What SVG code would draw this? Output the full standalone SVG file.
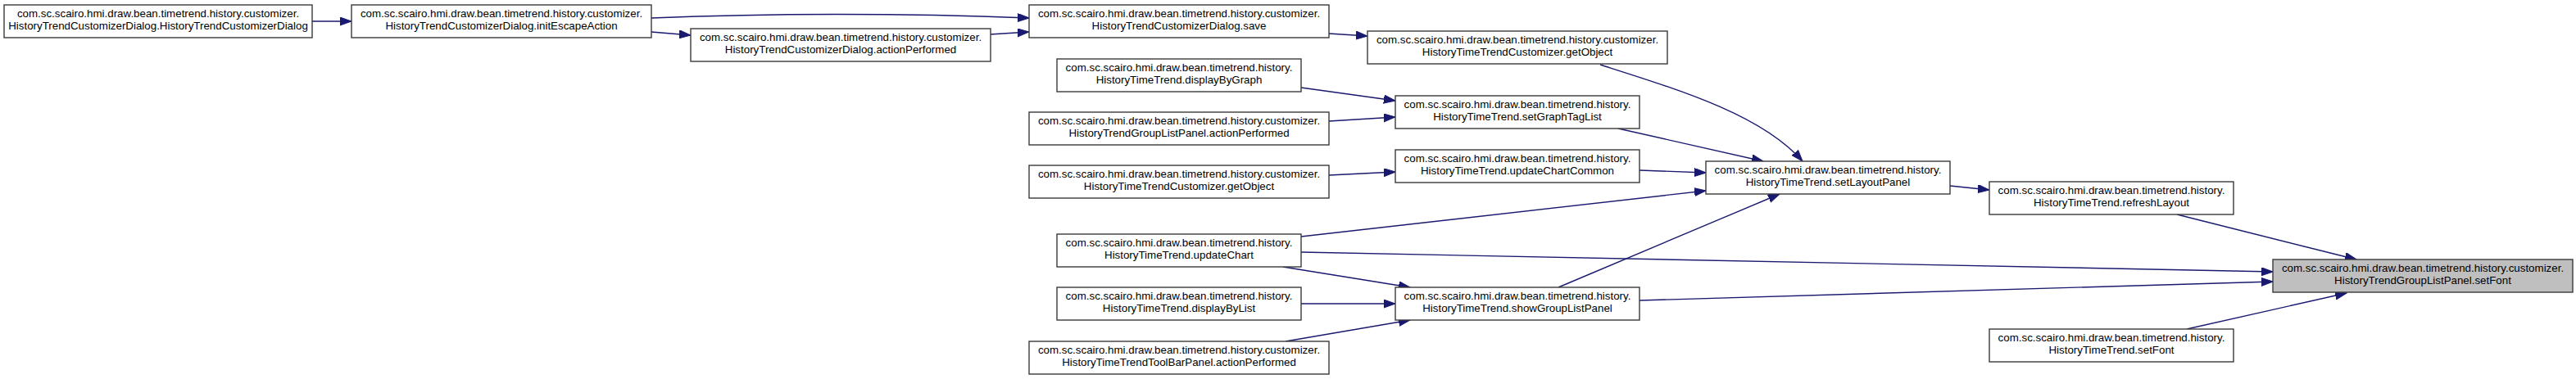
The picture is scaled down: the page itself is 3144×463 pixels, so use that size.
<svg xmlns="http://www.w3.org/2000/svg" width="3144" height="463" viewBox="0 0 3144 463">
<style>
.n rect{fill:#ffffff;stroke:#3a3a3a;stroke-width:1.4}
.n.t rect{fill:#bfbfbf}
.n text{font-family:"Liberation Sans",Arial,sans-serif;font-size:13.33px;fill:#000;text-anchor:middle}
.e path{fill:none;stroke:#191970;stroke-width:1.4;marker-end:url(#ah)}
</style>
<defs>
<marker id="ah" markerUnits="userSpaceOnUse" markerWidth="15" markerHeight="11" refX="14" refY="5" orient="auto">
<path d="M0,0 L14,5 L0,10 z" fill="#191970" stroke="#191970" stroke-width="1"/>
</marker>
</defs>
<rect width="3144" height="463" fill="#ffffff"/>
<g id="edges" class="e">
<path d="M381,26 L429,26"/>
<path d="M795,22 C950,16 1100,16 1256,22"/>
<path d="M795,39 L843,43"/>
<path d="M1208,42 L1256,39"/>
<path d="M1622,41 L1669,44"/>
<path d="M1953,79 C2050,110 2150,140 2200,197"/>
<path d="M1588,107 L1703,123"/>
<path d="M1622,148 L1703,143"/>
<path d="M1975,157 L2152,197"/>
<path d="M1622,214 L1703,210"/>
<path d="M2001,208 L2082,211"/>
<path d="M1588,289 L2082,233"/>
<path d="M1588,308 L2774,332"/>
<path d="M1566,326 L1721,351"/>
<path d="M1588,371 L1703,371"/>
<path d="M1569,417 L1721,391"/>
<path d="M1902,351 L2172,237"/>
<path d="M2001,367 L2774,344"/>
<path d="M2380,227 L2428,232"/>
<path d="M2657,262 L2876,317"/>
<path d="M2669,402 L2864,358"/>
</g>
<g id="nA" class="n"><rect x="5" y="6" width="376" height="40"/><text x="193" y="21">com.sc.scairo.hmi.draw.bean.timetrend.history.customizer.</text><text x="193" y="36">HistoryTrendCustomizerDialog.HistoryTrendCustomizerDialog</text></g>
<g id="nB" class="n"><rect x="429" y="6" width="366" height="40"/><text x="612" y="21">com.sc.scairo.hmi.draw.bean.timetrend.history.customizer.</text><text x="612" y="36">HistoryTrendCustomizerDialog.initEscapeAction</text></g>
<g id="nC" class="n"><rect x="843" y="35" width="366" height="40"/><text x="1026" y="50">com.sc.scairo.hmi.draw.bean.timetrend.history.customizer.</text><text x="1026" y="65">HistoryTrendCustomizerDialog.actionPerformed</text></g>
<g id="nD" class="n"><rect x="1256" y="6" width="366" height="40"/><text x="1439" y="21">com.sc.scairo.hmi.draw.bean.timetrend.history.customizer.</text><text x="1439" y="36">HistoryTrendCustomizerDialog.save</text></g>
<g id="nE" class="n"><rect x="1669" y="38" width="366" height="40"/><text x="1852" y="53">com.sc.scairo.hmi.draw.bean.timetrend.history.customizer.</text><text x="1852" y="68">HistoryTimeTrendCustomizer.getObject</text></g>
<g id="nF" class="n"><rect x="1290" y="72" width="298" height="40"/><text x="1439" y="87">com.sc.scairo.hmi.draw.bean.timetrend.history.</text><text x="1439" y="102">HistoryTimeTrend.displayByGraph</text></g>
<g id="nG" class="n"><rect x="1703" y="117" width="298" height="40"/><text x="1852" y="132">com.sc.scairo.hmi.draw.bean.timetrend.history.</text><text x="1852" y="147">HistoryTimeTrend.setGraphTagList</text></g>
<g id="nH" class="n"><rect x="1256" y="137" width="366" height="40"/><text x="1439" y="152">com.sc.scairo.hmi.draw.bean.timetrend.history.customizer.</text><text x="1439" y="167">HistoryTrendGroupListPanel.actionPerformed</text></g>
<g id="nI" class="n"><rect x="1703" y="183" width="298" height="40"/><text x="1852" y="198">com.sc.scairo.hmi.draw.bean.timetrend.history.</text><text x="1852" y="213">HistoryTimeTrend.updateChartCommon</text></g>
<g id="nJ" class="n"><rect x="1256" y="202" width="366" height="40"/><text x="1439" y="217">com.sc.scairo.hmi.draw.bean.timetrend.history.customizer.</text><text x="1439" y="232">HistoryTimeTrendCustomizer.getObject</text></g>
<g id="nK" class="n"><rect x="2082" y="197" width="298" height="40"/><text x="2231" y="212">com.sc.scairo.hmi.draw.bean.timetrend.history.</text><text x="2231" y="227">HistoryTimeTrend.setLayoutPanel</text></g>
<g id="nL" class="n"><rect x="2428" y="222" width="298" height="40"/><text x="2577" y="237">com.sc.scairo.hmi.draw.bean.timetrend.history.</text><text x="2577" y="252">HistoryTimeTrend.refreshLayout</text></g>
<g id="nM" class="n t"><rect x="2774" y="317" width="366" height="40"/><text x="2957" y="332">com.sc.scairo.hmi.draw.bean.timetrend.history.customizer.</text><text x="2957" y="347">HistoryTrendGroupListPanel.setFont</text></g>
<g id="nN" class="n"><rect x="2428" y="402" width="298" height="40"/><text x="2577" y="417">com.sc.scairo.hmi.draw.bean.timetrend.history.</text><text x="2577" y="432">HistoryTimeTrend.setFont</text></g>
<g id="nO" class="n"><rect x="1290" y="286" width="298" height="40"/><text x="1439" y="301">com.sc.scairo.hmi.draw.bean.timetrend.history.</text><text x="1439" y="316">HistoryTimeTrend.updateChart</text></g>
<g id="nP" class="n"><rect x="1703" y="351" width="298" height="40"/><text x="1852" y="366">com.sc.scairo.hmi.draw.bean.timetrend.history.</text><text x="1852" y="381">HistoryTimeTrend.showGroupListPanel</text></g>
<g id="nQ" class="n"><rect x="1290" y="351" width="298" height="40"/><text x="1439" y="366">com.sc.scairo.hmi.draw.bean.timetrend.history.</text><text x="1439" y="381">HistoryTimeTrend.displayByList</text></g>
<g id="nR" class="n"><rect x="1256" y="417" width="366" height="40"/><text x="1439" y="432">com.sc.scairo.hmi.draw.bean.timetrend.history.customizer.</text><text x="1439" y="447">HistoryTimeTrendToolBarPanel.actionPerformed</text></g>
</svg>
